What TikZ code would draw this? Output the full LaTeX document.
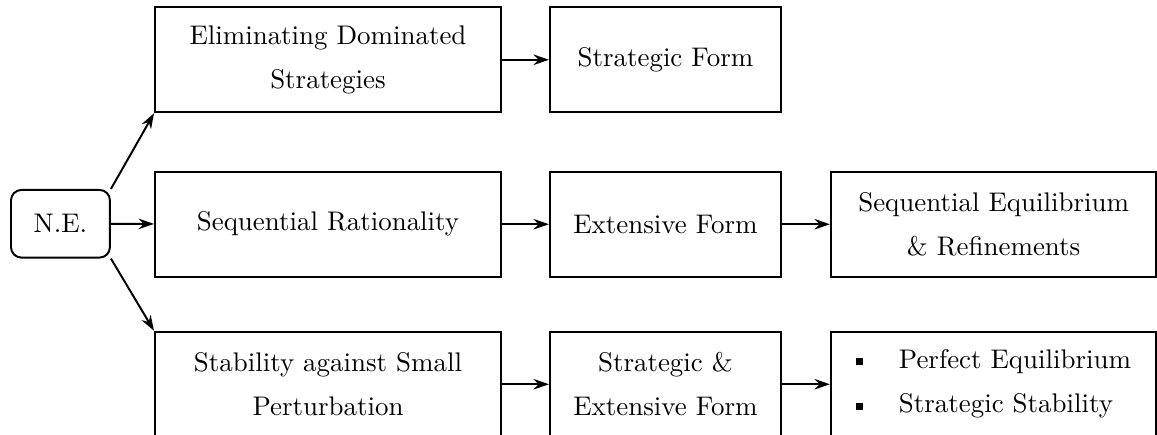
\documentclass[tikz,border=0pt]{standalone}
\usetikzlibrary{arrows.meta}
\begin{document}
\begin{tikzpicture}[thick,>={Stealth[length=2.2mm,width=1.5mm]},
		box/.style={draw,rectangle,minimum height=1.5cm,align=center,font=\fontsize{10.95}{17.9}\selectfont},
		bigbox/.style={box,minimum width=4.943cm},
		midbox/.style={box,minimum width=3.3cm},
		endbox/.style={box,minimum width=4.65cm}]
		\useasboundingbox (0,0) rectangle (16.53,-6.214);
		\node[draw,rounded corners=1.5mm,minimum width=1.414cm,minimum height=0.967cm,font=\fontsize{10.95}{17.9}\selectfont] (ne) at (0.864,-3.197) {N.E.};
		% top row
		\node[bigbox] (elim) at (4.686,-0.854) {Eliminating Dominated\\Strategies};
		\node[midbox] (sform) at (9.507,-0.854) {Strategic Form};
		% middle row
		\node[bigbox] (seqrat) at (4.686,-3.204) {Sequential Rationality};
		\node[midbox] (eform) at (9.507,-3.204) {Extensive Form};
		\node[endbox] (seqeq) at (14.196,-3.204) {Sequential Equilibrium\\\& Refinements};
		% bottom row
		\node[bigbox] (stab) at (4.686,-5.49) {Stability against Small\\Perturbation};
		\node[midbox] (seform) at (9.507,-5.49) {Strategic \&\\Extensive Form};
		\node[endbox,align=left] (refs) at (14.196,-5.49) {\makebox[6.1mm][l]{\rule[0.3ex]{1mm}{1mm}}Perfect Equilibrium\\\makebox[6.1mm][l]{\rule[0.3ex]{1mm}{1mm}}Strategic Stability};
		% arrows
		\draw[->] (ne.north east) -- (elim.south west);
		\draw[->] (ne) -- (seqrat);
		\draw[->] (ne.south east) -- (stab.north west);
		\draw[->] (elim) -- (sform);
		\draw[->] (seqrat) -- (eform);
		\draw[->] (eform) -- (seqeq);
		\draw[->] (stab) -- (seform);
		\draw[->] (seform) -- (refs);
	\end{tikzpicture}
\end{document}
